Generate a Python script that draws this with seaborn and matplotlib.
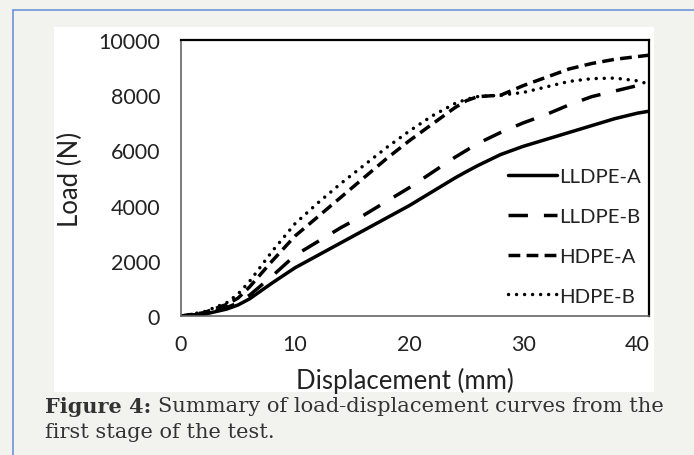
import numpy as np
import pandas as pd
import matplotlib
matplotlib.use('Agg')
import matplotlib.pyplot as plt
import seaborn as sns
from matplotlib.patches import Rectangle
from matplotlib.lines import Line2D

# displacement (mm) and load (N)
disp = [0, 2, 4, 5, 6, 8, 10, 12, 14, 16, 18, 20, 22, 24, 25, 26, 28, 30, 32, 34, 36, 38, 40, 41]
lldpe_a = [0, 60, 250, 400, 620, 1200, 1750, 2200, 2650, 3100, 3550, 4000, 4500, 5000, 5230, 5450, 5850, 6150, 6400, 6650, 6900, 7150, 7350, 7420]
lldpe_b = [0, 80, 300, 480, 750, 1450, 2200, 2700, 3200, 3650, 4150, 4650, 5200, 5750, 6000, 6250, 6650, 7000, 7300, 7650, 7950, 8150, 8350, 8420]
hdpe_a = [0, 120, 420, 650, 1050, 2000, 2900, 3600, 4300, 5000, 5700, 6350, 6950, 7550, 7800, 7950, 8000, 8350, 8650, 8950, 9150, 9300, 9400, 9450]
hdpe_b = [0, 150, 480, 800, 1250, 2350, 3350, 4100, 4800, 5450, 6100, 6700, 7250, 7700, 7850, 7950, 8000, 8100, 8300, 8500, 8600, 8620, 8520, 8400]
names = ['LLDPE-A', 'LLDPE-B', 'HDPE-A', 'HDPE-B']

df = pd.DataFrame({'disp': disp * 4,
                   'load': lldpe_a + lldpe_b + hdpe_a + hdpe_b,
                   'series': np.repeat(names, len(disp))})

sns.set_style('white')
plt.rcParams['font.family'] = ['Lato', 'DejaVu Sans']

W, H = 694, 456
fig = plt.figure(figsize=(W / 100, H / 100), dpi=100, facecolor='#f2f2ee')

# white panel behind the chart and the thin blue frame
fig.add_artist(Rectangle((54 / W, 1 - 393 / H), 600 / W, 365 / H, transform=fig.transFigure,
                         facecolor='white', edgecolor='none', zorder=0))
fig.add_artist(Line2D([13 / W, 13 / W], [0, 1 - 11 / H], transform=fig.transFigure, color='#6b95d6', lw=1.2))
fig.add_artist(Line2D([13 / W, 1], [1 - 11 / H, 1 - 11 / H], transform=fig.transFigure, color='#6b95d6', lw=1.2))

ax = fig.add_axes([181 / W, 1 - 317 / H, 468 / W, 276 / H])
ax.set_facecolor('white')

styles = {'LLDPE-A': dict(linestyle='-'),
          'LLDPE-B': dict(linestyle=(0, (5.6, 4.6)), dash_capstyle='butt'),
          'HDPE-A': dict(linestyle=(0, (3.4, 1.8)), dash_capstyle='butt'),
          'HDPE-B': dict(linestyle=(0, (0.01, 2.3)), dash_capstyle='round')}

for name in names:
    sub = df[df.series == name]
    sns.lineplot(x='disp', y='load', data=sub, ax=ax, color='black', linewidth=2.5,
                 label=name, **styles[name])

ax.set_xlim(0, 41)
ax.set_ylim(0, 10000)
ax.set_xticks([0, 10, 20, 30, 40])
ax.set_yticks([0, 2000, 4000, 6000, 8000, 10000])
ax.tick_params(axis='both', direction='out', length=5, width=1, color='#888888',
               labelsize=15.5, labelcolor='#222222')
ax.tick_params(axis='y', pad=10)
ax.tick_params(axis='x', pad=8)
for s in ['top', 'right']:
    ax.spines[s].set_color('black')
    ax.spines[s].set_linewidth(1.6)
for s in ['left', 'bottom']:
    ax.spines[s].set_color('#666666')
    ax.spines[s].set_linewidth(1.2)

ax.set_xlabel('Displacement (mm)', fontsize=18.5, color='#222222', va='center')
ax.set_ylabel('Load (N)', fontsize=18.5, color='#222222', va='center')
ax.xaxis.set_label_coords((405 - 181) / 468, (317 - 381) / 276)
ax.yaxis.set_label_coords((70 - 181) / 468, 0.5)

leg = ax.legend(loc='upper left', bbox_to_anchor=((508 - 181) / 468, (317 - 169) / 276),
                frameon=False, fontsize=14.7, handlelength=2.4, handletextpad=0.1,
                labelspacing=1.1, borderpad=0, borderaxespad=0)
for t in leg.get_texts():
    t.set_color('#222222')

# caption below the chart
fig.canvas.draw()
t1 = fig.text(45 / W, 1 - 407 / H, 'Figure 4:', fontsize=15, fontweight='bold',
              family='DejaVu Serif', color='#333333', va='center')
fig.canvas.draw()
bb = t1.get_window_extent()
fig.text((bb.x1 + 7) / W, 1 - 407 / H, 'Summary of load-displacement curves from the',
         fontsize=15.1, family='DejaVu Serif', color='#333333', va='center')
fig.text(45 / W, 1 - 433 / H, 'first stage of the test.', fontsize=15,
         family='DejaVu Serif', color='#333333', va='center')

fig.savefig('out.png', dpi=100, facecolor=fig.get_facecolor())
